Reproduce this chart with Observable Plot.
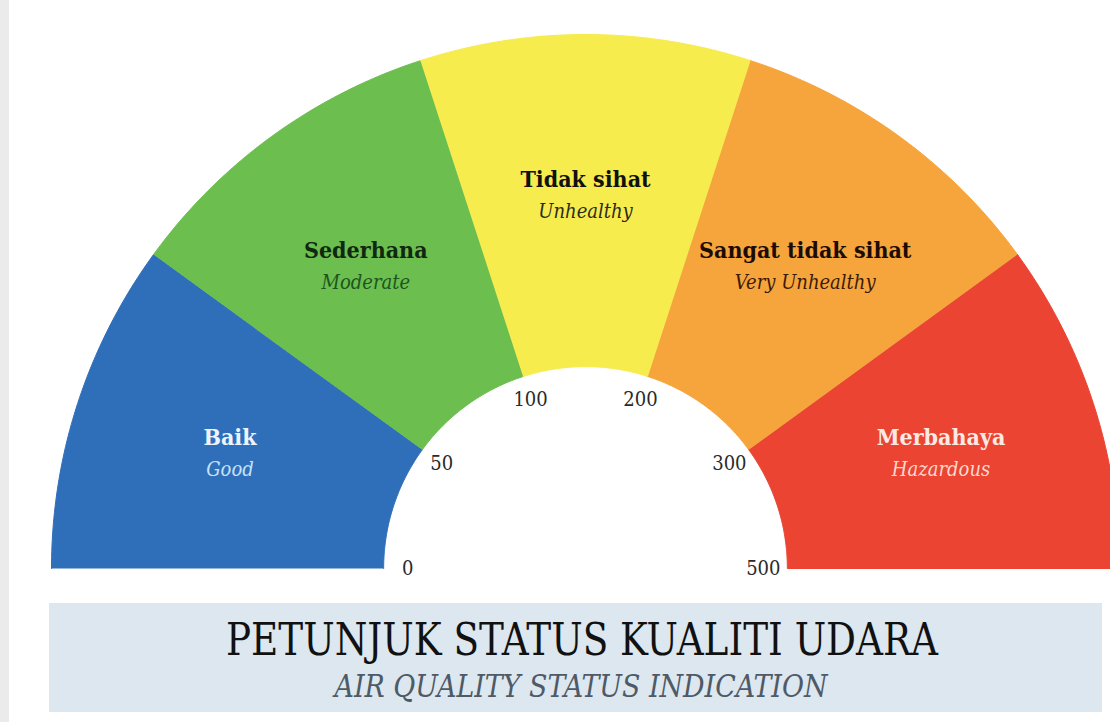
<!DOCTYPE html>
<html>
<head>
<meta charset="utf-8">
<script src="https://cdn.jsdelivr.net/npm/d3@7"></script>
<script src="https://cdn.jsdelivr.net/npm/@observablehq/plot@0.6"></script>
<style>
  html, body { margin: 0; padding: 0; background: #ffffff; }
  body { width: 1110px; height: 722px; overflow: hidden; position: relative; }
  .strip { position: absolute; left: 0; top: 0; width: 9px; height: 722px; background: #ebebeb; }
  #chart { position: absolute; left: 0; top: 0; }
  #banner { position: absolute; left: 49px; top: 603px; width: 1053px; height: 109px; background: #dce7f0; }
  #banner svg { display: block; }
</style>
</head>
<body>
<div class="strip"></div>
<div id="chart"></div>
<div id="banner">
  <svg width="1053" height="109">
    <text x="533" y="52" text-anchor="middle" textLength="712" lengthAdjust="spacingAndGlyphs"
      font-family="'DejaVu Serif Condensed','DejaVu Serif',serif" font-size="44" fill="#111111">PETUNJUK STATUS KUALITI UDARA</text>
    <text x="532" y="94" text-anchor="middle" textLength="493" lengthAdjust="spacingAndGlyphs"
      font-family="'DejaVu Serif Condensed','DejaVu Serif',serif" font-style="italic" font-size="32" fill="#4f5a66">AIR QUALITY STATUS INDICATION</text>
  </svg>
</div>
<script>
// ---- data ----
const categories = ["Baik", "Sederhana", "Tidak sihat", "Sangat tidak sihat", "Merbahaya"];
const englishLabels = ["Good", "Moderate", "Unhealthy", "Very Unhealthy", "Hazardous"];
const breakpoints = [0, 50, 100, 200, 300, 500];
const segmentColors = ["#2f6fba", "#6cbe4f", "#f7ec4e", "#f6a53c", "#eb4433"];
const labelColors = ["#eef4fb", "#10280f", "#111111", "#1c0c04", "#fbeae4"];
const subLabelColors = ["#c6e1f7", "#1c5520", "#2b2b1a", "#3c1a06", "#fcd9cf"];

// ---- geometry (unit circle, outer radius 1) ----
const n = categories.length;
const innerR = 0.378;
const labelR = 0.70;
const tickR = 0.333;
const steps = 60;

const segs = categories.flatMap((c, i) => {
  const a0 = Math.PI * (1 - i / n), a1 = Math.PI * (1 - (i + 1) / n);
  const pts = [];
  for (let k = 0; k <= steps; k++) {
    const a = a0 + (a1 - a0) * k / steps;
    pts.push({cat: c, color: segmentColors[i], x: Math.cos(a), y: Math.sin(a)});
  }
  for (let k = steps; k >= 0; k--) {
    const a = a0 + (a1 - a0) * k / steps;
    pts.push({cat: c, color: segmentColors[i], x: innerR * Math.cos(a), y: innerR * Math.sin(a)});
  }
  return pts;
});

const labels = categories.map((c, i) => {
  const mid = Math.PI * (1 - (i + 0.5) / n);
  return {ms: c, en: englishLabels[i], x: labelR * Math.cos(mid), y: labelR * Math.sin(mid),
          msColor: labelColors[i], enColor: subLabelColors[i]};
});

const ticks = breakpoints.map((v, i) => {
  const a = Math.PI * (1 - i / n);
  return {v, x: tickR * Math.cos(a), y: tickR * Math.sin(a)};
});

const font = "'DejaVu Serif Condensed', 'DejaVu Serif', serif";

const chart = Plot.plot({
  width: 1110,
  height: 596,
  margin: 0,
  style: {background: "transparent", fontFamily: font, overflow: "hidden"},
  x: {domain: [-1, 1], range: [51, 1119], axis: null},
  y: {domain: [0, 1], range: [568, 34], axis: null},
  color: {type: "identity"},
  marks: [
    Plot.line(segs, {x: "x", y: "y", z: "cat", fill: "color", stroke: "color", strokeWidth: 1, curve: "linear", clip: true}),
    Plot.text(labels, {x: "x", y: "y", text: "ms", fill: "msColor", fontWeight: "bold", fontSize: 23, dy: -15, fontFamily: font}),
    Plot.text(labels, {x: "x", y: "y", text: "en", fill: "enColor", fontStyle: "italic", fontSize: 20, dy: 17, fontFamily: font}),
    Plot.text(ticks, {x: "x", y: "y", text: d => String(d.v), fill: "#2a2a2a", fontSize: 20, fontFamily: font})
  ]
});
document.getElementById("chart").appendChild(chart);
</script>
</body>
</html>
